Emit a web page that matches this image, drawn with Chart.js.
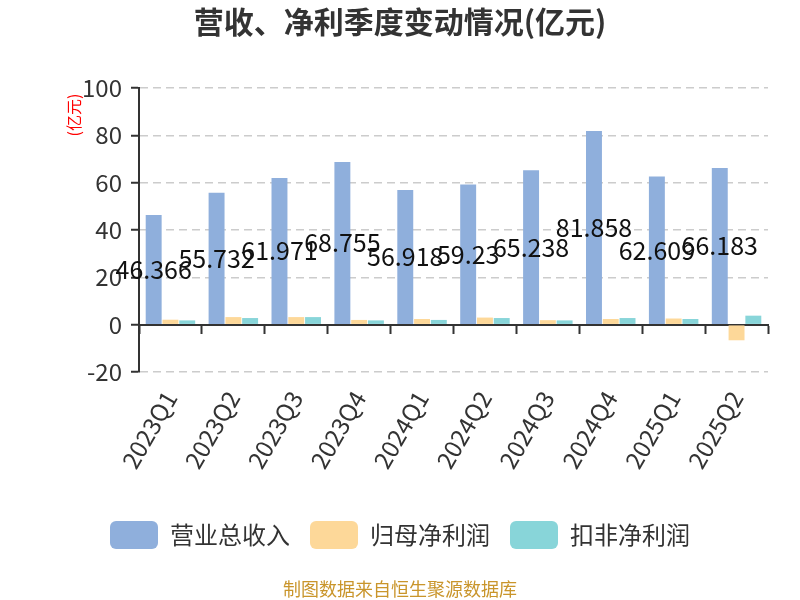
<!DOCTYPE html>
<html>
<head>
<meta charset="utf-8">
<script src="https://cdn.jsdelivr.net/npm/chart.js@4.4.1/dist/chart.umd.min.js"></script>
<style>
  html, body { margin: 0; padding: 0; background: #fff; }
  #wrap { width: 800px; height: 600px; }
</style>
</head>
<body>
<div id="wrap"><canvas id="chart"></canvas></div>
<script>
// quarters and values (亿元)
const quarters = ['2023Q1', '2023Q2', '2023Q3', '2023Q4', '2024Q1', '2024Q2', '2024Q3', '2024Q4', '2025Q1', '2025Q2'];
const revenue = [46.366, 55.732, 61.971, 68.755, 56.918, 59.23, 65.238, 81.858, 62.609, 66.183];
const netProfit = [2.1, 3.2, 3.2, 2.0, 2.4, 3.0, 1.9, 2.4, 2.6, -6.6];
const deductedProfit = [1.8, 2.8, 3.2, 1.8, 2.0, 2.8, 1.8, 2.8, 2.4, 3.8];
const yTicks = [-20, 0, 20, 40, 60, 80, 100];

const FONT = '"Noto Sans CJK SC", "Noto Sans", sans-serif';

// revenue labels in the middle of each blue bar, plus unit and source text
const extras = {
    id: 'extras',
    afterDatasetsDraw(chart) {
        const ctx = chart.ctx;
        const meta = chart.getDatasetMeta(0);
        ctx.save();
        ctx.font = '25px ' + FONT;
        ctx.fillStyle = '#111';
        ctx.textAlign = 'center';
        ctx.textBaseline = 'middle';
        meta.data.forEach((bar, i) => {
            ctx.fillText(String(revenue[i]), bar.x, (bar.y + bar.base) / 2);
        });
        ctx.restore();
    },
    afterDraw(chart) {
        const ctx = chart.ctx;
        const area = chart.chartArea;
        ctx.save();
        // unit
        ctx.translate(area.left - 65, area.top + 27);
        ctx.rotate(-Math.PI / 2);
        ctx.font = '16px ' + FONT;
        ctx.fillStyle = '#ff0000';
        ctx.textAlign = 'center';
        ctx.textBaseline = 'middle';
        ctx.fillText('(亿元)', 0, 0);
        ctx.restore();
        // source
        ctx.save();
        ctx.font = '18px ' + FONT;
        ctx.fillStyle = '#C9952B';
        ctx.textAlign = 'center';
        ctx.textBaseline = 'middle';
        ctx.fillText('制图数据来自恒生聚源数据库', chart.width / 2, 589);
        ctx.restore();
    }
};

new Chart(document.getElementById('chart'), {
    type: 'bar',
    data: {
        labels: quarters,
        datasets: [
            { label: '营业总收入', data: revenue, backgroundColor: '#8FAFDC' },
            { label: '归母净利润', data: netProfit, backgroundColor: '#FDD899' },
            { label: '扣非净利润', data: deductedProfit, backgroundColor: '#88D5D9' },
        ],
    },
    options: {
        responsive: true,
        maintainAspectRatio: false,
        animation: false,
        datasets: {
            bar: { categoryPercentage: 0.8, barPercentage: 0.95 },
        },
        layout: { padding: { left: 0, right: 0, top: 0, bottom: 41 } },
        scales: {
            x: {
                type: 'category',
                position: 'bottom',
                grid: { display: false },
                border: { display: false },
                ticks: {
                    color: '#333',
                    font: { family: FONT, size: 24 },
                    minRotation: 60,
                    maxRotation: 60,
                    autoSkip: false,
                    padding: 6,
                },
                afterFit(scale) { scale.height = 129; },
            },
            x2: {
                type: 'category',
                position: { y: 0 },
                offset: true,
                ticks: { display: false },
                grid: {
                    offset: true,
                    drawOnChartArea: false,
                    drawTicks: true,
                    tickLength: 8,
                    tickColor: '#333',
                    tickWidth: 2,
                },
                border: { color: '#333', width: 2 },
            },
            y: {
                min: -20,
                max: 100,
                afterBuildTicks(scale) {
                    scale.ticks = yTicks.map(v => ({ value: v }));
                },
                grid: {
                    color: '#cccccc',
                    lineWidth: 1.5,
                    drawTicks: true,
                    tickLength: 8,
                    tickColor: '#333',
                    tickWidth: 2,
                    tickBorderDash: [],
                },
                border: { color: '#333', width: 2, dash: [8, 5] },
                ticks: {
                    color: '#333',
                    font: { family: FONT, size: 24 },
                    padding: 9,
                },
                afterFit(scale) { scale.width = 139; },
            },
            // empty right margin so title and legend stay centred on the canvas
            yRight: {
                display: true,
                position: 'right',
                min: -20,
                max: 100,
                grid: { display: false },
                border: { display: false },
                ticks: { display: false },
                afterFit(scale) { scale.width = 32; },
            },
        },
        plugins: {
            title: {
                display: true,
                text: '营收、净利季度变动情况(亿元)',
                color: '#333',
                font: { family: FONT, size: 30, weight: 'bold' },
                padding: { top: 4, bottom: 48 },
            },
            legend: {
                position: 'bottom',
                labels: {
                    boxWidth: 48,
                    boxHeight: 28,
                    useBorderRadius: true,
                    borderRadius: 6,
                    padding: 20,
                    color: '#333',
                    font: { family: FONT, size: 24 },
                },
            },
            tooltip: { enabled: false },
        },
    },
    plugins: [extras],
});
</script>
</body>
</html>
